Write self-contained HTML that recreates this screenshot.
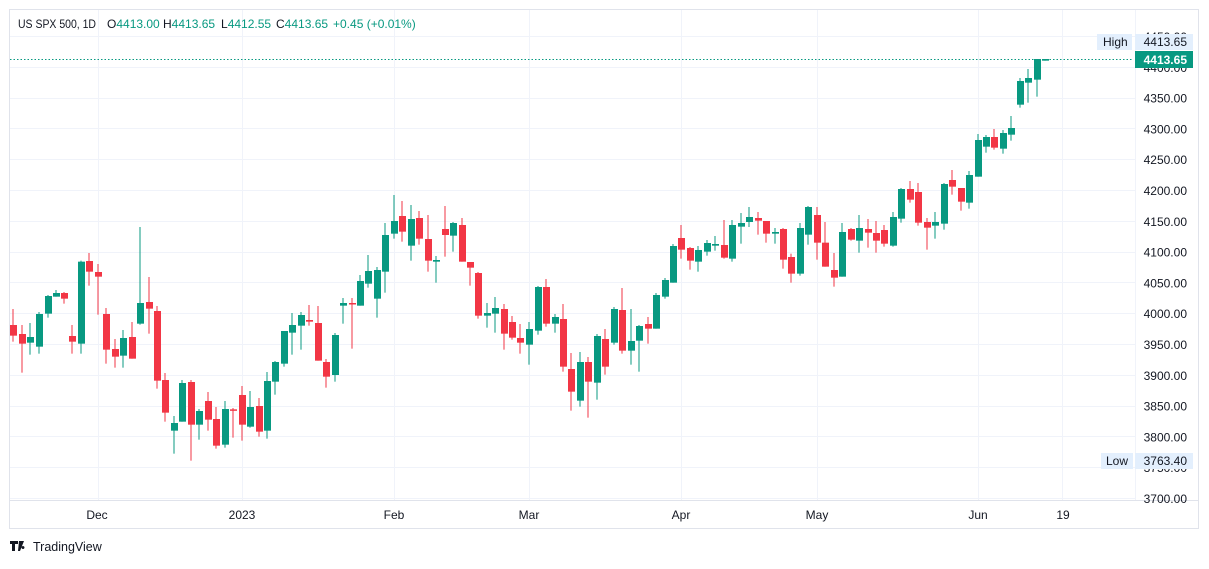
<!DOCTYPE html>
<html><head><meta charset="utf-8"><style>
body{margin:0;background:#fff;width:1209px;height:564px;overflow:hidden;font-family:"Liberation Sans",sans-serif}
svg text{font-family:"Liberation Sans",sans-serif}
</style></head><body>
<svg id="s" width="1209" height="564" xmlns="http://www.w3.org/2000/svg">
<rect x="9.5" y="9.5" width="1189" height="519" fill="#fff" stroke="#e0e3eb"/>
<g id="grid"></g>
<line x1="10" y1="500.5" x2="1198" y2="500.5" stroke="#e0e3eb"/>
<line x1="1135.5" y1="10" x2="1135.5" y2="500" stroke="#f0f3fa"/>
<g id="c"></g>
<line x1="10" y1="59.5" x2="1133" y2="59.5" stroke="#089981" stroke-dasharray="1.5,2"/>
<g font-size="12" fill="#131722">
<text x="18" y="28" textLength="78" lengthAdjust="spacingAndGlyphs">US SPX 500, 1D</text>
<text x="107" y="28">O<tspan fill="#089981">4413.00</tspan></text>
<text x="163" y="28">H<tspan fill="#089981">4413.65</tspan></text>
<text x="221" y="28">L<tspan fill="#089981">4412.55</tspan></text>
<text x="276" y="28">C<tspan fill="#089981">4413.65</tspan></text>
<text x="333" y="28" fill="#089981">+0.45 (+0.01%)</text>
</g>
<g id="ax" font-size="12" fill="#131722" text-anchor="end"></g>
<rect x="1097" y="34" width="35" height="16" fill="#e3effd"/>
<text x="1103" y="46" font-size="12" fill="#131722">High</text>
<rect x="1135" y="34" width="58" height="16" fill="#e3effd"/>
<text x="1187" y="46" font-size="12" fill="#131722" text-anchor="end">4413.65</text>
<rect x="1135" y="51" width="58" height="17" fill="#089981"/>
<text x="1187" y="64" font-size="12" font-weight="bold" fill="#fff" text-anchor="end">4413.65</text>
<rect x="1101" y="453" width="32" height="16" fill="#e3effd"/>
<text x="1106" y="465" font-size="12" fill="#131722">Low</text>
<rect x="1135" y="453" width="58" height="16" fill="#e3effd"/>
<text x="1187" y="465" font-size="12" fill="#131722" text-anchor="end">3763.40</text>
<g font-size="12" fill="#131722" text-anchor="middle">
<text x="97" y="519">Dec</text><text x="242" y="519">2023</text><text x="394" y="519">Feb</text>
<text x="529" y="519">Mar</text><text x="681" y="519">Apr</text><text x="817" y="519">May</text>
<text x="978" y="519">Jun</text><text x="1063" y="519">19</text>
</g>
<path d="M10 541h8v3h-3v7h-3v-7h-2z M19 541h5l-4 10h-2z M23 546a1.5 1.5 0 1 0 0.01 0z" fill="#131722"/>
<text x="33" y="551" font-size="12.5" fill="#131722">TradingView</text>
</svg>
<script>
var ns="http://www.w3.org/2000/svg";
function el(p,t,a){var e=document.createElementNS(ns,t);for(var k in a)e.setAttribute(k,a[k]);p.appendChild(e);return e;}
var grid=document.getElementById('grid'),ax=document.getElementById('ax'),cg=document.getElementById('c');
for(var i=0;i<=15;i++){var p=4450-50*i,y=36+i*30.8;
 el(grid,'line',{x1:10,x2:1135,y1:Math.round(y)+.5,y2:Math.round(y)+.5,stroke:'#f0f3fa'});
 var t=el(ax,'text',{x:1187,y:y+5});t.textContent=p.toFixed(2);}
[98,242,394,529,681,817,978,1062].forEach(function(x){el(grid,'line',{x1:x+.5,x2:x+.5,y1:10,y2:500,stroke:'#f0f3fa'});});
var Z=[
[0,220,[[40,315,347,267,365,'r'],[67,342,371,315,458,'r'],[91,351,368,309,404,'g'],[118,282,380,276,401,'g'],[143,228,281,225,293,'g'],[169,219,230,210,230,'g'],[193,219,236,216,251,'r'],[217,348,365,315,401,'r'],[244,125,371,122,401,'g'],[268,123,155,99,197,'r'],[295,156,170,132,284,'r'],[319,282,389,264,431,'r'],[346,387,410,357,443,'r'],[370,354,407,330,443,'g'],[397,351,416,306,416,'r'],[421,249,311,21,314,'g'],[448,246,266,171,341,'r'],[472,273,482,258,506,'r'],[496,480,578,459,605,'r'],[523,609,632,588,701,'g']]],
[170,260,[[37,369,485,360,485,'g'],[64,366,494,360,602,'r'],[88,453,494,447,539,'g'],[115,423,479,396,512,'r'],[139,477,557,441,566,'r'],[166,447,554,423,563,'g'],[190,448,452,444,533,'r'],[217,405,494,378,542,'r'],[241,441,500,393,503,'g'],[268,438,515,414,530,'r'],[292,363,512,336,536,'g'],[316,306,365,303,404,'g'],[343,213,311,213,320,'g'],[367,195,218,159,284,'g'],[394,165,197,156,269,'g'],[418,180,185,135,197,'r'],[445,189,302,138,302,'r'],[469,306,350,297,383,'r'],[496,225,345,219,365,'g'],[520,129,137,114,191,'g']]],
[340,185,[[37,354,358,339,491,'r'],[61,288,362,270,362,'g'],[85,258,296,210,308,'g'],[112,255,341,246,398,'g'],[136,150,260,114,323,'g'],[163,108,146,30,161,'g'],[187,93,140,48,170,'r'],[214,102,182,60,227,'g'],[238,99,161,78,179,'r'],[265,162,227,90,260,'r'],[289,225,230,213,293,'g'],[316,132,150,63,215,'r'],[340,114,152,111,200,'g'],[367,120,230,99,230,'r'],[391,231,248,231,302,'r'],[415,264,392,261,401,'r'],[442,384,392,354,428,'g'],[466,369,386,336,443,'g'],[493,372,446,357,494,'r'],[517,411,458,393,464,'r']]],
[500,270,[[61,204,218,162,251,'r'],[88,177,224,156,284,'g'],[115,51,182,48,194,'g'],[139,51,161,27,170,'r'],[166,141,161,132,188,'g'],[190,147,290,102,305,'r'],[214,297,365,249,422,'r'],[241,276,392,246,410,'g'],[265,276,335,261,443,'r'],[292,198,338,192,389,'g'],[316,207,290,177,314,'r'],[343,117,218,111,224,'g'],[367,120,242,54,251,'r'],[394,213,242,117,284,'g'],[418,168,212,165,305,'g'],[445,162,176,141,221,'r'],[469,75,176,69,176,'g'],[496,30,80,24,86,'g']]],
[660,190,[[40,168,278,162,278,'g'],[64,144,179,105,206,'r'],[91,174,212,171,239,'r'],[115,180,215,168,245,'g'],[142,159,185,150,197,'g'],[166,162,167,138,182,'g'],[193,165,203,90,206,'r'],[217,105,206,90,215,'g'],[244,99,110,69,161,'g'],[268,81,96,51,111,'g'],[295,84,92,66,134,'r'],[319,93,131,93,158,'r'],[346,126,131,114,161,'g'],[370,117,209,114,236,'r'],[394,201,251,191,278,'r'],[421,114,251,99,257,'g'],[445,51,134,48,164,'g'],[472,75,158,51,209,'r'],[496,158,230,96,230,'r'],[523,240,263,189,290,'r'],[547,126,260,99,260,'g'],[574,117,149,114,152,'r']]],
[840,50,[[58,534,572,495,608,'g'],[85,537,548,507,593,'r'],[109,549,572,513,608,'r'],[133,540,581,525,590,'r'],[160,501,587,486,590,'g'],[184,417,506,414,518,'g'],[211,417,449,393,458,'r'],[235,426,518,399,527,'r'],[262,516,533,504,599,'r'],[286,516,527,486,566,'g'],[313,402,521,399,539,'g'],[337,390,410,360,434,'r'],[364,414,455,414,482,'r'],[388,375,458,363,476,'g'],[415,270,380,252,380,'g'],[439,261,290,255,308,'g'],[463,261,293,237,299,'r'],[490,249,296,240,311,'g'],[514,234,254,198,272,'g'],[541,93,164,84,173,'g'],[565,84,98,57,158,'g'],[592,27,89,27,140,'g'],[616,27,32,27,32,'g']]]
];
Z.forEach(function(z){z[2].forEach(function(c){
 var x=z[0]+c[0]/3,bt=z[1]+c[1]/3,bb=z[1]+c[2]/3,wt=z[1]+c[3]/3,wb=z[1]+c[4]/3;
 var col=c[5]=='g'?'#089981':'#f23645';
 el(cg,'rect',{x:Math.round(x)-0.5,y:wt,width:1,height:Math.max(1,wb-wt),fill:col});
 el(cg,'rect',{x:Math.round(x)-3,y:bt,width:7,height:Math.max(1.5,bb-bt),fill:col});
});});
</script>
</body></html>
